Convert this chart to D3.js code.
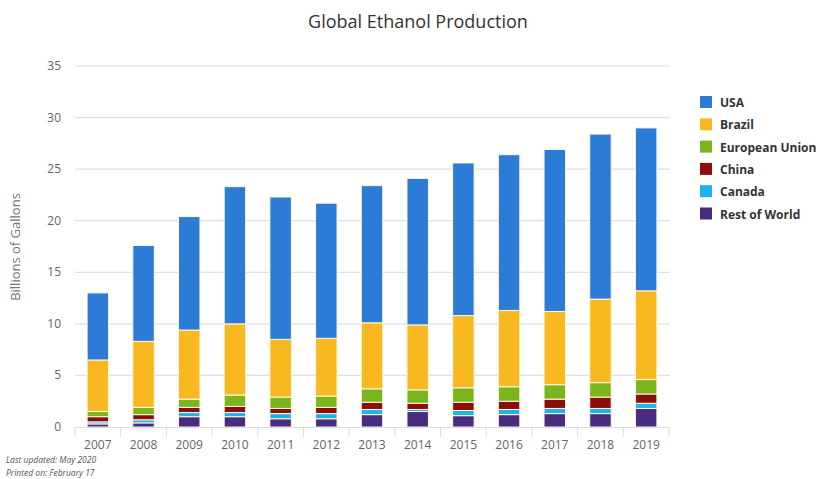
<!DOCTYPE html>
<html><head><meta charset="utf-8">
<script src="https://cdn.jsdelivr.net/npm/d3@7"></script>
<style>body{margin:0;background:#fff}svg{display:block}</style>
</head><body><svg id="c" width="820" height="479"></svg>
<script>
const years = ["2007","2008","2009","2010","2011","2012","2013","2014","2015","2016","2017","2018","2019"];
const seriesNames = ["USA","Brazil","European Union","China","Canada","Rest of World"];
const usa    = [6.5, 9.3, 11.0, 13.3, 13.8, 13.1, 13.3, 14.2, 14.8, 15.1, 15.7, 16.0, 15.8];
const brazil = [5.0, 6.4, 6.7, 6.9, 5.6, 5.6, 6.4, 6.3, 7.0, 7.4, 7.1, 8.1, 8.6];
const eu     = [0.5, 0.7, 0.8, 1.1, 1.1, 1.1, 1.3, 1.3, 1.4, 1.4, 1.4, 1.4, 1.4];
const china  = [0.5, 0.5, 0.5, 0.6, 0.5, 0.6, 0.7, 0.6, 0.8, 0.8, 0.9, 1.1, 0.9];
const canada = [0.2, 0.3, 0.4, 0.4, 0.5, 0.5, 0.5, 0.2, 0.5, 0.5, 0.5, 0.5, 0.5];
const rest   = [0.3, 0.4, 1.0, 1.0, 0.8, 0.8, 1.2, 1.5, 1.1, 1.2, 1.3, 1.3, 1.8];
const yTicks = [0,5,10,15,20,25,30,35];
const colors = ["#2b7bd7","#f8b920","#7ab51d","#8b0d0d","#1cb3ee","#4a2b7d"];

const svg = d3.select("#c");
const font = "'Open Sans', sans-serif";
const ml = 75, mr = 669, mt = 66, mb = 427;

const rows = years.map((y,i)=>({year:y, "USA":usa[i], "Brazil":brazil[i], "European Union":eu[i], "China":china[i], "Canada":canada[i], "Rest of World":rest[i]}));
// stack bottom-up: Rest of World at bottom, USA on top
const stackOrder = seriesNames.slice().reverse();
const stacked = d3.stack().keys(stackOrder)(rows);

const x = d3.scaleBand().domain(years).range([ml, mr]).paddingInner(0.53).paddingOuter(0.265);
const xTick = d3.scaleBand().domain(years).range([ml, mr]);
const y = d3.scaleLinear().domain([0,35]).range([mb, mt]);

// grid
svg.append("g").selectAll("line").data(yTicks.filter(d=>d>0)).join("line")
  .attr("x1", ml).attr("x2", mr+1).attr("y1", d=>y(d)).attr("y2", d=>y(d))
  .attr("stroke","#e0e0e0").attr("stroke-width",1.2);

// y labels
svg.append("g").selectAll("text").data(yTicks).join("text")
  .attr("x", 61).attr("y", d=>y(d)+4).attr("text-anchor","end")
  .attr("font-family",font).attr("font-size",12).attr("fill","#666").text(d=>d);

// y title
svg.append("text").attr("transform","translate(20,247) rotate(-90)").attr("text-anchor","middle")
  .attr("font-family",font).attr("font-size",13).attr("fill","#777").text("Billions of Gallons");

// bars
const colorOf = d3.scaleOrdinal().domain(seriesNames).range(colors);
svg.append("g").selectAll("g").data(stacked).join("g")
  .attr("fill", d=>colorOf(d.key))
  .selectAll("rect").data(d=>d).join("rect")
  .attr("x", d=>x(d.data.year)).attr("width", x.bandwidth())
  .attr("y", d=>y(d[1])).attr("height", d=>y(d[0])-y(d[1]))
  .attr("stroke","#fff8e0").attr("stroke-width",1);

// x axis line and ticks
svg.append("line").attr("x1", ml).attr("x2", mr).attr("y1", mb+0.5).attr("y2", mb+0.5).attr("stroke","#d8dde6");
const tickPos = years.map(yv=>xTick(yv)).concat([mr]);
svg.append("g").selectAll("line").data(tickPos).join("line")
  .attr("x1", d=>d).attr("x2", d=>d).attr("y1", mb).attr("y2", mb+10).attr("stroke","#d8dde6");
svg.append("g").selectAll("text").data(years).join("text")
  .attr("x", d=>xTick(d)+xTick.bandwidth()/2).attr("y", 449).attr("text-anchor","middle")
  .attr("font-family",font).attr("font-size",12).attr("fill","#666").text(d=>d);

// title
svg.append("text").attr("x", 418).attr("y", 28).attr("text-anchor","middle")
  .attr("font-family",font).attr("font-size",18).attr("fill","#333").text("Global Ethanol Production");

// legend
const lg = svg.append("g").selectAll("g").data(seriesNames).join("g")
  .attr("transform",(d,i)=>`translate(700,${96+i*22.3})`);
lg.append("rect").attr("width",12).attr("height",12).attr("fill",d=>colorOf(d));
lg.append("text").attr("x",20).attr("y",11).attr("font-family",font).attr("font-size",12)
  .attr("font-weight","bold").attr("fill","#333").text(d=>d);

// footer
svg.append("text").attr("x",6).attr("y",463).attr("font-family",font).attr("font-size",8.5)
  .attr("font-style","italic").attr("fill","#555").text("Last updated: May 2020");
svg.append("text").attr("x",6).attr("y",476).attr("font-family",font).attr("font-size",8.5)
  .attr("font-style","italic").attr("fill","#555").text("Printed on: February 17");
</script></body></html>
